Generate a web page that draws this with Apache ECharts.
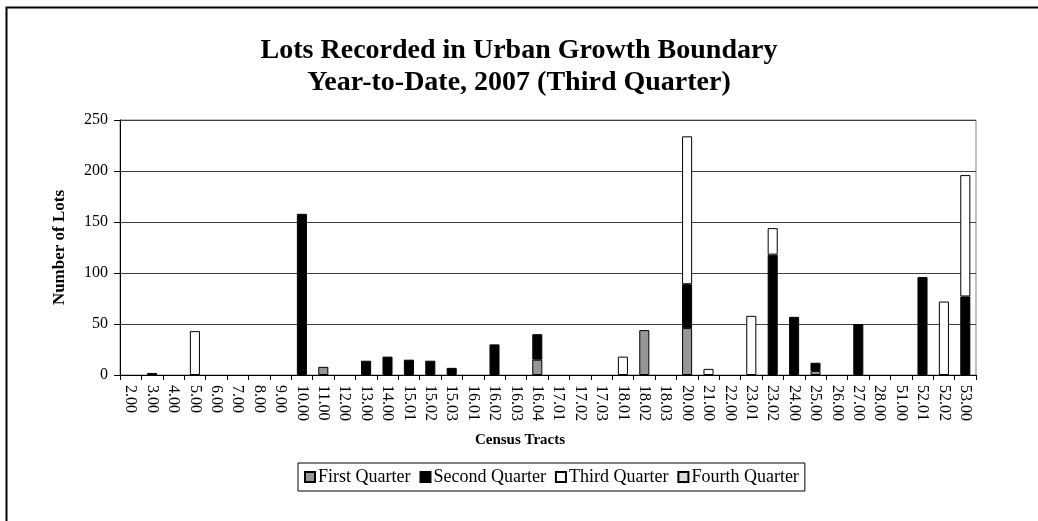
<!DOCTYPE html>
<html>
<head>
<meta charset="utf-8">
<script src="https://cdn.jsdelivr.net/npm/echarts@6/dist/echarts.min.js"></script>
<style>html,body{margin:0;padding:0;background:#fff;}#c{width:1038px;height:521px;}</style>
</head>
<body>
<div id="c"></div>
<script>
var categories = ['2.00','3.00','4.00','5.00','6.00','7.00','8.00','9.00','10.00','11.00','12.00','13.00','14.00','15.01','15.02','15.03','16.01','16.02','16.03','16.04','17.01','17.02','17.03','18.01','18.02','18.03','20.00','21.00','22.00','23.01','23.02','24.00','25.00','26.00','27.00','28.00','51.00','52.01','52.02','53.00'];
var firstQuarter  = [0,0,0,0,0,0,0,0,0,8,0,0,0,0,0,0,0,0,0,15,0,0,0,0,44,0,46,0,0,0,0,0,4,0,0,0,0,0,0,0];
var secondQuarter = [0,2,0,0,0,0,0,0,158,0,0,14,18,15,14,7,0,30,0,25,0,0,0,0,0,0,43,0,0,0,118,57,8,0,50,0,0,96,0,77];
var thirdQuarter  = [0,0,0,43,0,0,0,0,0,0,0,0,0,0,0,0,0,0,0,0,0,0,0,18,0,0,145,6,0,58,26,0,0,0,0,0,0,0,72,119];
var fourthQuarter = [0,0,0,0,0,0,0,0,0,0,0,0,0,0,0,0,0,0,0,0,0,0,0,0,0,0,0,0,0,0,0,0,0,0,0,0,0,0,0,0];
var yTicks = [0,50,100,150,200,250];

var FONT = 'Liberation Serif';
function clean(arr){ return arr.map(function(v){ return v === 0 ? '-' : v; }); }
function mk(name, data, color){
  return {
    name: name, type: 'bar', stack: 'q', data: clean(data), barWidth: '47%',
    itemStyle: { color: color, borderColor: '#000', borderWidth: 1 },
    emphasis: { disabled: true }
  };
}
var chart = echarts.init(document.getElementById('c'), null, {renderer: 'canvas'});
chart.setOption({
  animation: false,
  backgroundColor: '#fff',
  title: {
    text: 'Lots Recorded in Urban Growth Boundary\nYear-to-Date, 2007 (Third Quarter)',
    left: 'center', top: 30,
    textStyle: { fontFamily: FONT, fontSize: 28, fontWeight: 'bold', color: '#000', lineHeight: 32 }
  },
  legend: {
    data: ['First Quarter','Second Quarter','Third Quarter','Fourth Quarter'],
    left: 298, top: 463,
    itemWidth: 10, itemHeight: 10, itemGap: 9,
    icon: 'rect',
    borderColor: '#000', borderWidth: 1, padding: [5, 6, 5, 6],
    textStyle: { fontFamily: FONT, fontSize: 18, color: '#000', padding: [0,0,0,-2] }
  },
  grid: { left: 120, right: 62, top: 120, bottom: 146, show: true, borderColor: '#808080', borderWidth: 1 },
  xAxis: {
    type: 'category', data: categories,
    name: 'Census Tracts', nameLocation: 'middle', nameGap: 58,
    nameTextStyle: { fontFamily: FONT, fontSize: 15, fontWeight: 'bold', color: '#000', padding: [0, 56, 0, 0] },
    axisLine: { lineStyle: { color: '#000', width: 1 } },
    axisTick: { show: true, alignWithLabel: false, length: 5, lineStyle: { color: '#000' } },
    axisLabel: { interval: 0, rotate: -90, fontFamily: FONT, fontSize: 16, color: '#000', margin: 10 }
  },
  yAxis: {
    type: 'value', min: yTicks[0], max: yTicks[yTicks.length-1], interval: 50,
    name: 'Number of Lots', nameLocation: 'middle', nameGap: 52, nameRotate: 90,
    nameTextStyle: { fontFamily: FONT, fontSize: 17, fontWeight: 'bold', color: '#000' },
    axisLine: { show: true, lineStyle: { color: '#000', width: 1 } },
    axisTick: { show: true, length: 6, lineStyle: { color: '#000' } },
    splitLine: { show: true, lineStyle: { color: '#404040', width: 1 } },
    axisLabel: { fontFamily: FONT, fontSize: 16, color: '#000', margin: 12 }
  },
  graphic: [{
    type: 'polyline', silent: true,
    shape: { points: [[6.5, 521], [6.5, 7.5], [1038, 7.5]] },
    style: { stroke: '#000', lineWidth: 2, fill: null }
  }],
  series: [
    mk('First Quarter', firstQuarter, '#969696'),
    mk('Second Quarter', secondQuarter, '#000000'),
    mk('Third Quarter', thirdQuarter, '#ffffff'),
    mk('Fourth Quarter', fourthQuarter, '#dcdcdc')
  ]
});
</script>
</body>
</html>
